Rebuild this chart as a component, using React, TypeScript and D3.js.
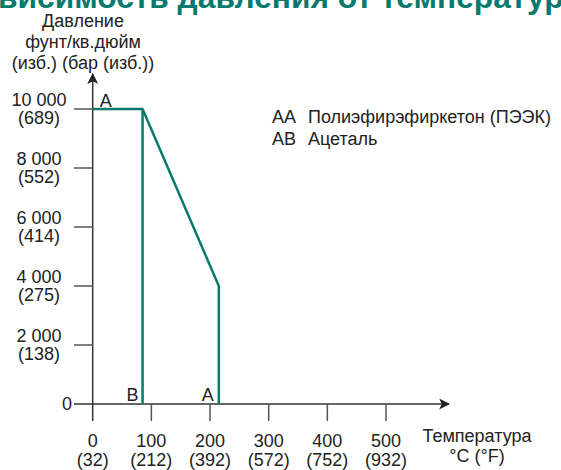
import React, { useEffect, useRef } from 'react';
import * as d3 from 'd3';

// values
const xTicks = [0, 100, 200, 300, 400, 500];
const xTickF = ['(32)', '(212)', '(392)', '(572)', '(752)', '(932)'];
const yTicks = [2000, 4000, 6000, 8000, 10000];
const yTickPsi = ['2 000', '4 000', '6 000', '8 000', '10 000'];
const yTickBar = ['(138)', '(275)', '(414)', '(552)', '(689)'];

const peekTemp = [0, 85, 215, 215];
const peekPress = [10000, 10000, 4000, 0];
const acetalTemp = [85, 85];
const acetalPress = [10000, 0];

const legendCodes = ['AA', 'AB'];
const legendNames = ['Полиэфирэфиркетон (ПЭЭК)', 'Ацеталь'];

const title = 'Зависимость давления от температуры';

const W = 561;
const H = 470;
const teal = '#077a6d';
const ink = '#222';
const font = '"Liberation Sans", Arial, sans-serif';
const fs = 18;

export default function App() {
  const ref = useRef<SVGSVGElement>(null);

  useEffect(() => {
    const svg = d3.select(ref.current);
    svg.selectAll('*').remove();

    const x = d3.scaleLinear().domain([0, 500]).range([92.7, 386]);
    const y = d3.scaleLinear().domain([0, 10000]).range([404, 109]);

    // title - wider than the frame, cut off on both sides like the original
    const measure = (s, size) => {
      const t = svg.append('text').style('font', `bold ${size}px ${font}`).text(s);
      const w = (t.node() as SVGTextElement).getComputedTextLength();
      t.remove();
      return w;
    };
    const visW = measure('висимость давления от температур', 30);
    const tSize = 30 * 566 / visW;
    const lead = measure('За', tSize);
    svg.append('text')
      .attr('x', -lead - 2).attr('y', 8)
      .style('font', `bold ${tSize}px ${font}`)
      .style('fill', teal)
      .text(title);

    // arrow head
    const defs = svg.append('defs');
    defs.append('marker')
      .attr('id', 'arr')
      .attr('viewBox', '0 0 10 10')
      .attr('refX', 9).attr('refY', 5)
      .attr('markerWidth', 11).attr('markerHeight', 11)
      .attr('markerUnits', 'userSpaceOnUse')
      .attr('orient', 'auto')
      .append('path')
      .attr('d', 'M0,0 L10,5 L0,10 L2.5,5 Z')
      .style('fill', ink);

    // axes
    svg.append('line')
      .attr('x1', x(0)).attr('y1', 421).attr('x2', x(0)).attr('y2', 74)
      .style('stroke', '#333').style('stroke-width', 1.5)
      .attr('marker-end', 'url(#arr)');
    svg.append('line')
      .attr('x1', 74).attr('y1', y(0)).attr('x2', 449).attr('y2', y(0))
      .style('stroke', '#333').style('stroke-width', 1.5)
      .attr('marker-end', 'url(#arr)');

    const txt = (g, tx, ty, s, anchor = 'middle') => g.append('text')
      .attr('x', tx).attr('y', ty).attr('dy', '0.35em')
      .attr('text-anchor', anchor)
      .style('font', `${fs}px ${font}`).style('fill', ink)
      .text(s);

    // y ticks
    const yg = svg.append('g');
    yTicks.forEach((v, i) => {
      yg.append('line')
        .attr('x1', 74).attr('x2', x(0)).attr('y1', y(v)).attr('y2', y(v))
        .style('stroke', '#555').style('stroke-width', 1.5);
      txt(yg, 39, y(v) - 9, yTickPsi[i]);
      txt(yg, 39, y(v) + 9, yTickBar[i]);
    });
    txt(yg, 72, y(0), '0', 'end');

    // x ticks
    const xg = svg.append('g');
    xTicks.forEach((v, i) => {
      if (v > 0) {
        xg.append('line')
          .attr('x1', x(v)).attr('x2', x(v)).attr('y1', y(0)).attr('y2', 421)
          .style('stroke', '#555').style('stroke-width', 1.5);
      }
      txt(xg, x(v), 441, String(v));
      txt(xg, x(v), 459.5, xTickF[i]);
    });

    // axis titles
    ['Давление', 'фунт/кв.дюйм', '(изб.) (бар (изб.))'].forEach((t, i) => {
      txt(svg, 83, 21 + i * 21, t);
    });
    ['Температура', '°C (°F)'].forEach((t, i) => {
      txt(svg, 477, 436 + i * 19.5, t);
    });

    // curves
    const line = d3.line<[number, number]>()
      .x((d) => x(d[0]))
      .y((d) => y(d[1]));
    svg.append('path')
      .attr('d', line(peekTemp.map((t, i) => [t, peekPress[i]] as [number, number])))
      .style('fill', 'none').style('stroke', teal).style('stroke-width', 2.5);
    svg.append('path')
      .attr('d', line(acetalTemp.map((t, i) => [t, acetalPress[i]] as [number, number])))
      .style('fill', 'none').style('stroke', teal).style('stroke-width', 2.5);

    // curve letters
    txt(svg, x(0) + 13, y(10000) - 8.5, 'A');
    txt(svg, x(acetalTemp[0]) - 10, y(0) - 9, 'B');
    txt(svg, x(peekTemp[3]) - 11, y(0) - 9, 'A');

    // legend
    legendCodes.forEach((c, i) => {
      txt(svg, 272, 117 + i * 22, c, 'start');
      txt(svg, 308, 117 + i * 22, legendNames[i], 'start');
    });
  }, []);

  return (
    <svg
      ref={ref}
      width={W}
      height={H}
      style={{ position: 'absolute', left: 0, top: 0, background: '#fff' }}
    />
  );
}
